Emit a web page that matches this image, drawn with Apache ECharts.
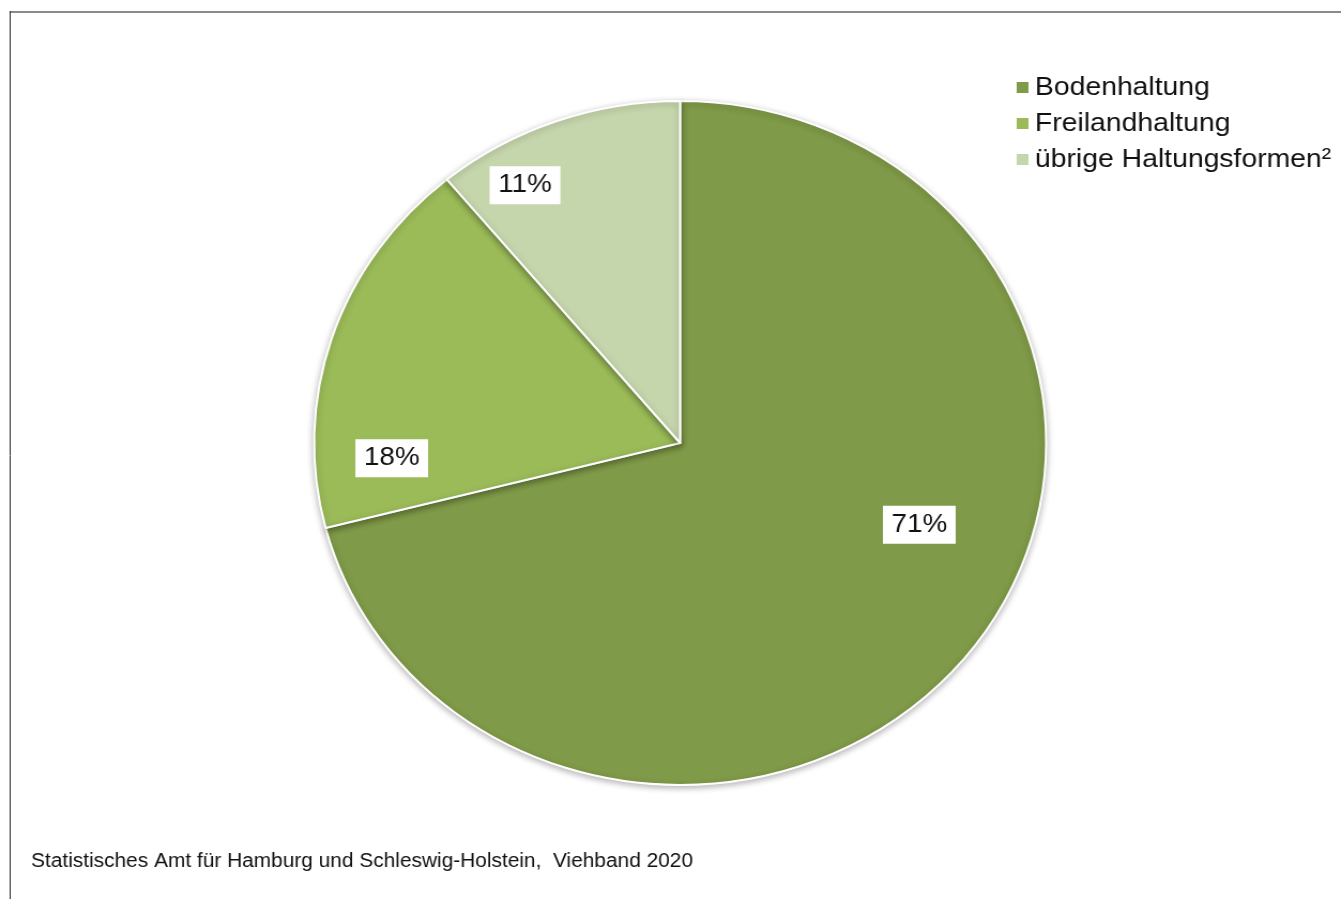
<!DOCTYPE html>
<html>
<head>
<meta charset="utf-8">
<script src="https://cdn.jsdelivr.net/npm/echarts@6/dist/echarts.min.js"></script>
<style>
  html, body { margin: 0; padding: 0; background: #fff; overflow: hidden; }
  #wrap { width: 1341px; height: 899px; overflow: hidden; position: relative; }
  #chart { width: 1253px; height: 899px; transform: scaleX(1.0702); transform-origin: 0 0; }
</style>
</head>
<body>
<div id="wrap"><div id="chart"></div></div>
<script>
// ---- data ----
const categories = ['Bodenhaltung', 'Freilandhaltung', 'übrige Haltungsformen²'];
const shares = [71, 18, 11];
const sourceText = 'Statistisches Amt für Hamburg und Schleswig-Holstein,  Viehband 2020';

// ---- styles ----
const sliceColors = ['#7F9A48', '#9BBB59', '#C6D6AC'];
const labelShift = [[86, -25], [-104, 69], [-86, -94]];
const FONT = '"Liberation Sans", Arial, sans-serif';

const chart = echarts.init(document.getElementById('chart'), null, { renderer: 'canvas' });

chart.setOption({
  animation: false,
  backgroundColor: '#ffffff',
  color: sliceColors,
  legend: {
    orient: 'vertical',
    left: 948,
    top: 74,
    padding: 0,
    icon: 'rect',
    itemWidth: 13,
    itemHeight: 13,
    itemGap: 9,
    selectedMode: false,
    textStyle: { fontFamily: FONT, fontSize: 26.5, lineHeight: 25.5, color: '#111' },
    data: categories
  },
  graphic: [
    { type: 'line', shape: { x1: 9.5, y1: 12, x2: 1260, y2: 12 }, style: { stroke: '#8a8a8a', lineWidth: 2 } },
    { type: 'line', shape: { x1: 9.5, y1: 11, x2: 9.5, y2: 905 }, style: { stroke: '#333', lineWidth: 1 } },
    { type: 'text', left: 29, top: 852, style: { text: sourceText, font: '19.5px ' + FONT, fill: '#111' } }
  ],
  series: [{
    type: 'pie',
    silent: true,
    center: [635.5, 443],
    radius: 342,
    startAngle: 90,
    clockwise: true,
    itemStyle: {
      borderColor: '#ffffff',
      borderWidth: 2,
      shadowBlur: 6,
      shadowColor: 'rgba(0,0,0,0.28)',
      shadowOffsetY: 2
    },
    label: {
      position: 'inside',
      formatter: '{c}%',
      fontFamily: FONT,
      fontSize: 26,
      color: '#111',
      backgroundColor: '#ffffff',
      padding: [6, 8, 6, 8]
    },
    labelLine: { show: false },
    labelLayout: function (p) {
      const s = labelShift[p.dataIndex];
      return { dx: s[0], dy: s[1] };
    },
    data: categories.map((n, i) => ({ name: n, value: shares[i] }))
  }]
});
</script>
</body>
</html>
